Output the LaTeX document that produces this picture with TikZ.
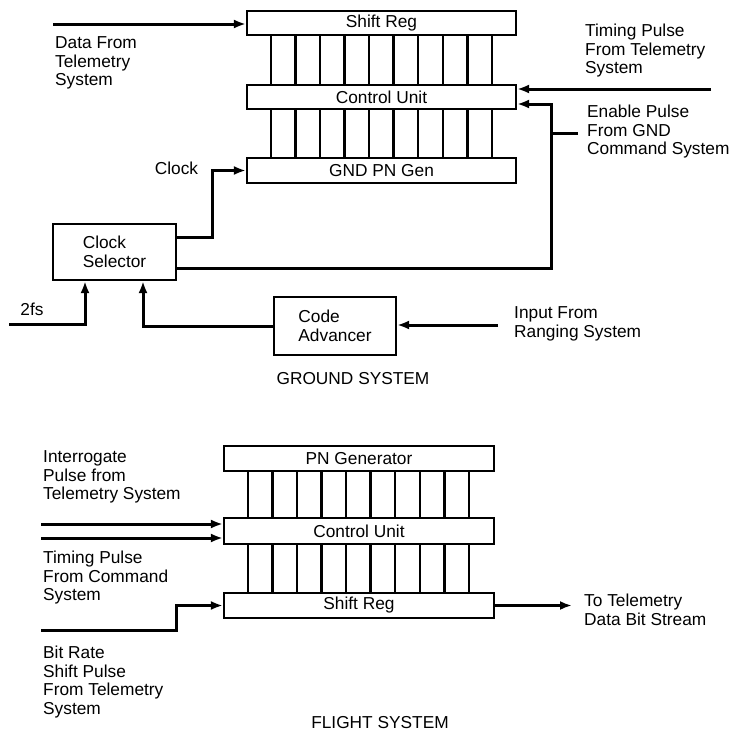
\documentclass[tikz,border=0pt]{standalone}
\usepackage{fontspec}
\setmainfont{Liberation Sans}
\usepackage{tikz}
\usetikzlibrary{
  arrows.meta,
  calc}
\newcommand\lblfont{\fontsize{17.3}{18.5}\selectfont}
\tikzset{
  unit/.style={draw, line width=2.2pt, inner sep=0pt, font=\lblfont},
  wire/.style={line width=3pt},
  feed/.style={wire, -{Latex[length=12pt,width=9pt]}},
  bus/.style={line width=2.5pt},
  txt/.style={align=left, anchor=west, inner sep=0pt, font=\lblfont},
  caption/.style={inner sep=0pt, font=\lblfont},
}

\begin{document}
\begin{tikzpicture}[x=1pt,y=-1pt]
\useasboundingbox (0,0) rectangle (732,734);
\node[unit, minimum width=269pt, minimum height=24pt] (gshift) at (381.5,23) {Shift Reg};
\node[unit, minimum width=269pt, minimum height=24pt] (gctrl) at (381.5,97) {Control Unit};
\node[unit, minimum width=269pt, minimum height=25pt] (gpn) at (381.5,170.5) {GND PN Gen};
\foreach \i in {0,...,9}{
  \draw[bus] ([xshift={25pt+24.55pt*\i}]gshift.south west) -- ([xshift={25pt+24.55pt*\i}]gctrl.north west);
  \draw[bus] ([xshift={25pt+24.55pt*\i}]gctrl.south west) -- ([xshift={25pt+24.55pt*\i}]gpn.north west);
}
\node[unit, minimum width=123pt, minimum height=56pt, align=left] (csel) at (114.5,252) {Clock\\Selector};
\node[unit, minimum width=122pt, minimum height=58pt, align=left] (cadv) at (335,326) {Code\\Advancer};
\coordinate (datain) at (53,24);
\coordinate (timein) at (711,89);
\coordinate (enin) at (578,133);
\coordinate (enjoin) at (551,133);
\coordinate (fsin) at (9,324);
\coordinate (rngin) at (498,325);
\draw[feed] (datain) -- (datain -| gshift.west);
\draw[feed] (timein) -- (timein -| gctrl.east);
\draw[feed] ([yshift=15pt]csel.east) -- ++(35,0) |- (gpn.west);
\draw[feed] ([yshift=-16pt]csel.east) -| (enjoin) |- ([yshift=-7pt]gctrl.east);
\draw[wire] (enin) -- (enjoin);
\draw[feed] (fsin) -| ([xshift=-29.5pt]csel.south);
\draw[feed] (cadv.west) -| ([xshift=28.5pt]csel.south);
\draw[feed] (rngin) -- (rngin -| cadv.east);
\node[txt] (datalbl) at (55,63) {Data From\\Telemetry\\System};
\node[txt] (timelbl) at (585,51) {Timing Pulse\\From Telemetry\\System};
\node[txt] (enlbl) at (587,132) {Enable Pulse\\From GND\\Command System};
\node[caption] (clklbl) at (176.5,168) {Clock};
\node[caption] (fslbl) at (32,309) {2fs};
\node[txt] (rnglbl) at (514,324) {Input From\\Ranging System};
\node[caption] (gndlbl) at (353,379) {GROUND SYSTEM};

\node[unit, minimum width=270pt, minimum height=25pt] (fpn) at (359,458.5) {PN Generator};
\node[unit, minimum width=270pt, minimum height=26pt] (fctrl) at (359,531) {Control Unit};
\node[unit, minimum width=270pt, minimum height=25pt] (fshift) at (359,605.5) {Shift Reg};
\foreach \i in {0,...,9}{
  \draw[bus] ([xshift={25pt+24.55pt*\i}]fpn.south west) -- ([xshift={25pt+24.55pt*\i}]fctrl.north west);
  \draw[bus] ([xshift={25pt+24.55pt*\i}]fctrl.south west) -- ([xshift={25pt+24.55pt*\i}]fshift.north west);
}
\coordinate (intin) at (41,524);
\coordinate (cmdin) at (41,538);
\coordinate (bitin) at (41,630);
\coordinate (tlmout) at (572,606);
\draw[feed] (intin) -- (intin -| fctrl.west);
\draw[feed] (cmdin) -- (cmdin -| fctrl.west);
\draw[feed] (bitin) -- ++(135,0) |- (fshift.west);
\draw[feed] (fshift.east) -- (fshift.east -| tlmout);
\node[txt] (intlbl) at (43,477) {Interrogate\\Pulse from\\Telemetry System};
\node[txt] (cmdlbl) at (43,578) {Timing Pulse\\From Command\\System};
\node[txt] (bitlbl) at (43,682) {Bit Rate\\Shift Pulse\\From Telemetry\\System};
\node[txt] (tlmlbl) at (584,610) {To Telemetry\\Data Bit Stream};
\node[caption] (fltlbl) at (380,723) {FLIGHT SYSTEM};
\end{tikzpicture}
\end{document}
